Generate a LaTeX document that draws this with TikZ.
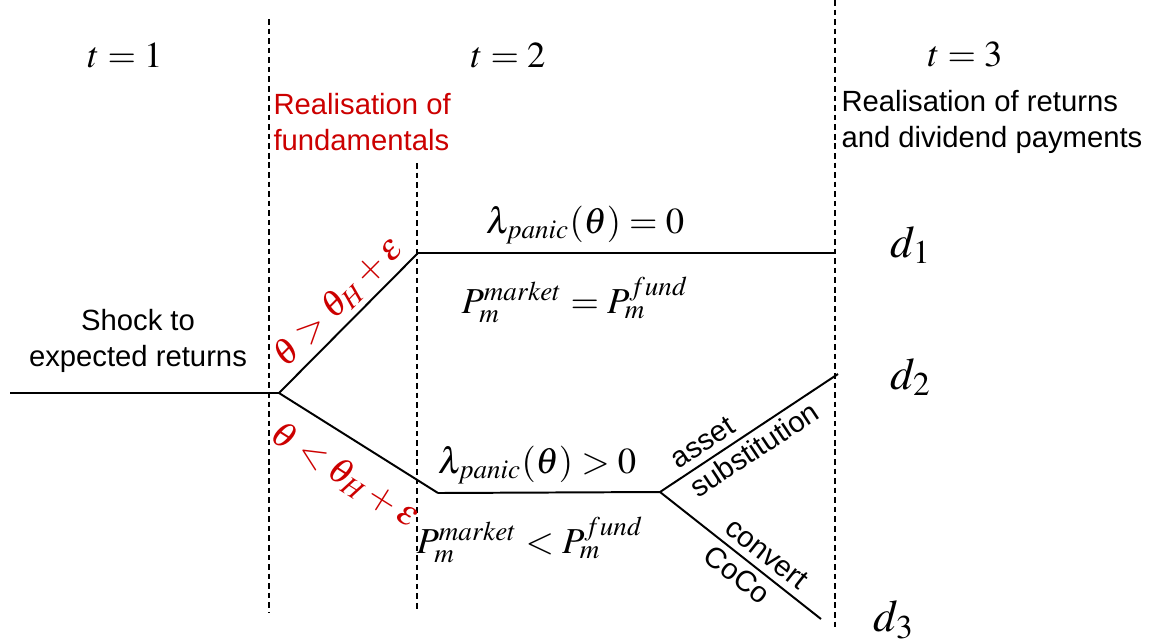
\documentclass[tikz,border=0pt]{standalone}
\usepackage{mathptmx}
\usepackage{fontspec}
\setmainfont{Liberation Sans}
\usepackage{xcolor}
\definecolor{stageRed}{RGB}{204,0,0}
\usetikzlibrary{positioning,calc}

\begin{document}
\begin{tikzpicture}[x=0.0125cm, y=-0.0125cm,
  txt/.style={font=\fontsize{10.4pt}{12.5pt}\selectfont, align=left, inner sep=0pt},
  eq/.style={font=\fontsize{13pt}{15pt}\selectfont, inner sep=1pt},
  payoff/.style={font=\fontsize{16pt}{18pt}\selectfont, inner sep=0pt},
  stage/.style={line width=0.7pt, dash pattern=on 2pt off 1.4pt},
  branch/.style={line width=0.7pt}
]
  \useasboundingbox (0,0) rectangle (1153,642);

  % dates
  \node[eq] (t1) at (125,55) {$t = 1$};
  \node[eq] (t2) at (508,55) {$t = 2$};
  \node[eq] (t3) at (965,55) {$t = 3$};
  \draw[stage] (269,19) -- (269,612);
  \draw[stage] (417,163) -- (417,612);
  \draw[stage] (835,0) -- (835,630);

  \node[txt, text=stageRed, anchor=west] (fund) at (273,122) {Realisation of\\fundamentals};
  \node[txt, anchor=west] (ret) at (841,122) {Realisation of returns\\and dividend payments};
  \node[txt, align=center] (shocktxt) at (138,341) {Shock to\\expected returns};

  % tree
  \coordinate (start) at (10,393);
  \coordinate (shock) at (279,393);
  \coordinate (up) at (418,253);
  \coordinate (down) at (438,493);
  \coordinate (split) at (660,492);
  \coordinate (e1) at (836,253);
  \coordinate (e2) at (838,374);
  \coordinate (e3) at (821,619);

  \draw[branch] (start) -- (shock);
  \draw[branch] (shock) -- node[eq, sloped, pos=0.54, above=1pt, text=stageRed]
    {$\theta > \theta_H + \varepsilon$} (up);
  \draw[branch] (up) -- (e1);
  \draw[branch] (shock) -- node[eq, sloped, pos=0.53, below=0.2cm, text=stageRed]
    {$\theta < \theta_H + \varepsilon$} (down);
  \draw[branch] (down) -- (split);
  \draw[branch] (split) -- node[txt, sloped, pos=0.1, anchor=west, inner sep=2pt]
    {asset\\substitution} (e2);
  \draw[branch] (split) -- node[txt, sloped, pos=0.33, anchor=west, inner sep=2pt]
    {convert\\CoCo} (e3);

  \node[eq] (lam0) at (585,225) {$\lambda_{panic}(\theta) = 0$};
  \node[eq] (peq) at (575,300) {$P_m^{market} = P_m^{fund}$};
  \node[eq] (lam1) at (537,465) {$\lambda_{panic}(\theta) > 0$};
  \node[eq] (pless) at (530,540) {$P_m^{market} < P_m^{fund}$};

  \node[payoff] (d1) at (911,245) {$d_1$};
  \node[payoff] (d2) at (911,377) {$d_2$};
  \node[payoff] (d3) at (894,620) {$d_3$};
\end{tikzpicture}
\end{document}
